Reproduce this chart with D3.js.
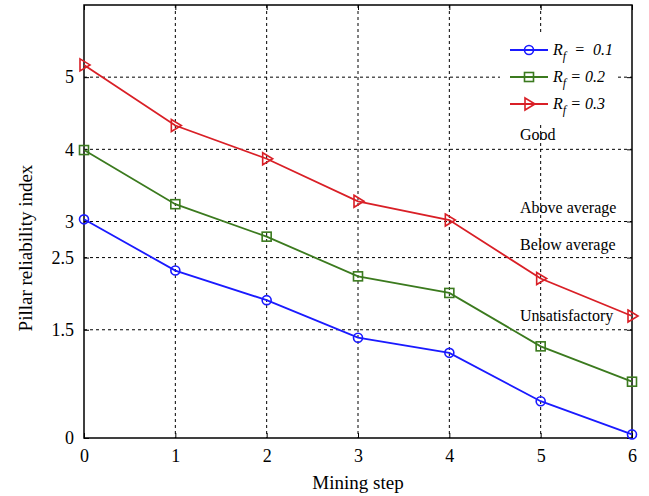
<!DOCTYPE html>
<html><head><meta charset="utf-8">
<script src="https://cdn.jsdelivr.net/npm/d3@7"></script>
<style>body{margin:0;background:#fff}svg{display:block}</style>
</head><body>
<svg id="c" width="649" height="496"></svg>
<script>
const steps = [0,1,2,3,4,5,6];
const rf01 = [3.03,2.32,1.91,1.39,1.18,0.51,0.05];
const rf02 = [3.99,3.24,2.79,2.24,2.01,1.27,0.78];
const rf03 = [5.17,4.33,3.87,3.28,3.02,2.21,1.69];
const seriesNames = ["0.1","0.2","0.3"];
const yTicks = [0,1.5,2.5,3,4,5];
const xTicks = [0,1,2,3,4,5,6];
const zones = [{t:"Good",v:4.0},{t:"Above average",v:3.0},{t:"Below average",v:2.5},{t:"Unsatisfactory",v:1.5}];

const svg = d3.select("#c");
const L=84,R=632,T=5,B=438;
const x = d3.scaleLinear().domain([0,6]).range([L,R]);
const y = d3.scaleLinear().domain([0,6]).range([B,T]);
const font = "'Liberation Serif','Times New Roman',serif";

// grid
const g = svg.append("g");
g.selectAll(".vg").data(xTicks.filter(d=>d>0&&d<6)).enter().append("line")
 .attr("x1",d=>x(d)).attr("x2",d=>x(d)).attr("y1",T).attr("y2",B)
 .attr("stroke","#000").attr("stroke-width",1).attr("stroke-dasharray","3,3");
g.selectAll(".hg").data(yTicks.filter(d=>d>0)).enter().append("line")
 .attr("x1",L).attr("x2",R).attr("y1",d=>y(d)).attr("y2",d=>y(d))
 .attr("stroke","#000").attr("stroke-width",1).attr("stroke-dasharray","3,3");

// axes
svg.append("g").attr("transform",`translate(0,${B})`)
 .call(d3.axisBottom(x).tickValues(xTicks).tickSize(-5).tickPadding(11).tickFormat(d3.format("d")));
svg.append("g").attr("transform",`translate(${L},0)`)
 .call(d3.axisLeft(y).tickValues(yTicks).tickSize(-5).tickPadding(10).tickFormat(d=>String(d)));
svg.append("g").attr("transform",`translate(${R},0)`)
 .call(d3.axisRight(y).tickValues(yTicks).tickSize(-5).tickFormat(""));
svg.append("g").attr("transform",`translate(0,${T})`)
 .call(d3.axisTop(x).tickValues(xTicks).tickSize(-5).tickFormat(""));
svg.selectAll(".domain").remove();
svg.selectAll(".tick line").attr("stroke","#000");
svg.selectAll(".tick text").attr("font-family",font).attr("font-size",18).attr("fill","#000");
svg.append("rect").attr("x",L).attr("y",T).attr("width",R-L).attr("height",B-T)
 .attr("fill","none").attr("stroke","#000").attr("stroke-width",1.5);

// zone labels
svg.selectAll(".zl").data(zones).enter().append("text")
 .attr("x",520).attr("y",(d,i)=>[140,213,250,321][i])
 .attr("font-family",font).attr("font-size",16).text(d=>d.t);

// series
const data = [rf01,rf02,rf03];
const colors = ["#1a1aff","#3b7a1e","#d91f26"];
const line = d3.line().x((d,i)=>x(steps[i])).y(d=>y(d));
function marker(sel, k, cx, cy){
  if(k===0) sel.append("circle").attr("cx",cx).attr("cy",cy).attr("r",4.5);
  else if(k===1) sel.append("rect").attr("x",cx-4.5).attr("y",cy-4.5).attr("width",9).attr("height",9);
  else sel.append("path").attr("d",`M${cx-4},${cy-6}L${cx+6},${cy}L${cx-4},${cy+6}Z`);
}
data.forEach((s,k)=>{
  const sg = svg.append("g").attr("stroke",colors[k]).attr("fill","none").attr("stroke-width",1.8);
  sg.append("path").attr("d",line(s));
  const mg = svg.append("g").attr("stroke",colors[k]).attr("fill","none").attr("stroke-width",1.6);
  s.forEach((v,i)=>marker(mg,k,x(steps[i]),y(v)));
});

// legend
const lg = svg.append("g");
lg.append("rect").attr("x",500).attr("y",33).attr("width",115).attr("height",89).attr("fill","#fff");
seriesNames.forEach((n,k)=>{
  const ly = 50 + k*27;
  lg.append("line").attr("x1",510).attr("x2",548).attr("y1",ly).attr("y2",ly)
    .attr("stroke",colors[k]).attr("stroke-width",1.8);
  const mg = lg.append("g").attr("stroke",colors[k]).attr("fill","none").attr("stroke-width",1.6);
  marker(mg,k,529,ly);
  const t = lg.append("text").attr("x",553).attr("y",ly+5).attr("font-family",font)
    .attr("font-size",16).attr("font-style","italic");
  t.append("tspan").text("R");
  t.append("tspan").attr("font-size",12).attr("dy",5).text("f");
  t.append("tspan").attr("dy",-5).attr("xml:space","preserve").text(k===0?"  =  "+n:" = "+n);
});

// axis titles
svg.append("text").attr("x",(L+R)/2).attr("y",489).attr("text-anchor","middle")
 .attr("font-family",font).attr("font-size",19).text("Mining step");
svg.append("text").attr("transform",`translate(32,248) rotate(-90)`).attr("text-anchor","middle")
 .attr("font-family",font).attr("font-size",19).text("Pillar reliability index");
</script>
</body></html>
